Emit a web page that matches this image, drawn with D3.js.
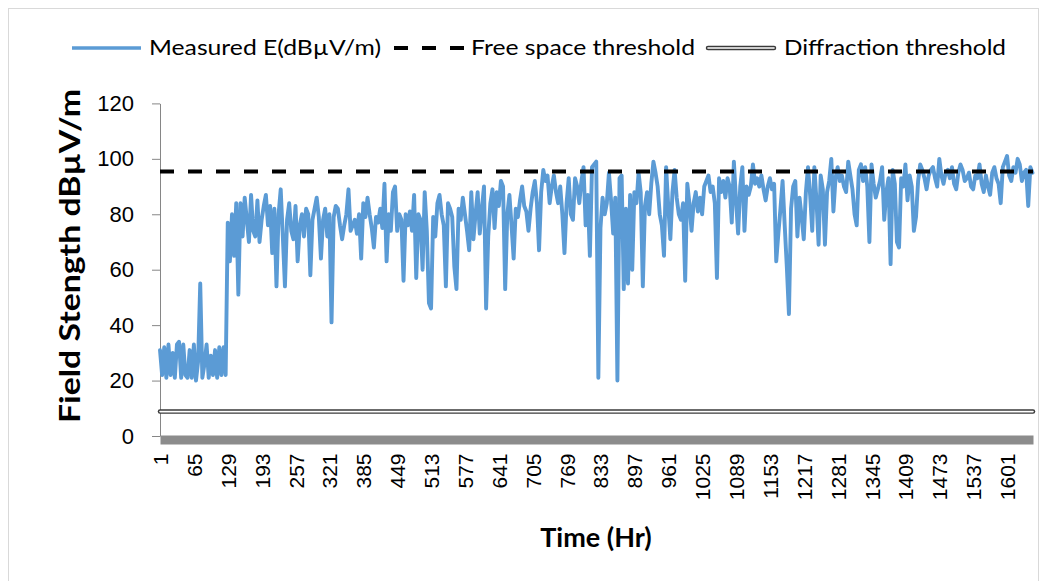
<!DOCTYPE html>
<html>
<head>
<meta charset="utf-8">
<script src="https://cdn.jsdelivr.net/npm/d3@7"></script>
<style>
  body { margin: 0; background: #fff; }
  svg { display: block; font-family: Lato, "Open Sans", sans-serif; }
</style>
</head>
<body>
<svg id="chart" width="1046" height="581"></svg>
<script>
// hourly record, one value every 4 hours (1, 5, 9 ... 1649)
const measured = [
  31,22,32,21,33,22,30,21,33,34,21,33,22,21,31,21,33,20,27,55,21,26,33,21,29,22,31,21,32,22,32,22,
  77,63,80,65,84,51,84,72,86,78,70,87,74,72,85,70,78,83,87,76,83,66,82,54,80,89,72,54,78,84,74,71,83,63,76,80,72,82,
  80,58,78,82,86,79,64,78,82,72, 80,41,79,83,82,76,71,76,80,89, 74,76,78,73,80,64,84,79,86,80,
  75,68,79,77,82,75,91,63,80,74, 88,90,74,80,78,56,80,76,81,74, 87,57,80,78,60,88,74,48,46,79,
  72,84,87,80,76,54,84,82,79,61,
  53,82,78,86,80,74,67,88,71,80, 88,73,82,90,46,72,84,89,75,88, 83,92,90,53,80,87,76,64,82,79,
  85,90,83,81,74,82,88,92,84,67, 88,96,92,94,84,90,94,88,84,90, 80,66,84,93,80,78,93,90,84,92,
  97,76,87,65,97,98,99,21,75,
  86,80,84,95,85,73,86,20,93,94, 53,82,55,87,60,88,84,95,88,54, 83,88,80,91,99,95,90,80,76,65,
  97,83,71,88,96,86,80,78,84,56, 91,84,74,84,88,81,86,80,90,92, 94,88,90,84,57,93,88,92,86,93,
  90,77,99,85,73,90,97,74,90,87,
  90,98,91,93,90,94,89,85,90,93, 89,91,63,73,82,92,76,61,44,82, 90,92,72,86,79,71,88,97,87,74,
  97,85,69,94,89,69,88,92,100,81, 93,97,92,94,90,88,99,94,89,80, 76,96,98,92,97,90,70,98,91,86,
  89,92,97,78,88,93,62,96,91,
  70,68,93,90,98,85,94,90,74,79, 92,98,96,93,89,94,96,97,93,90, 100,94,91,95,96,93,97,91,89,95,
  98,96,92,93,95,90,89,94,93,98, 91,88,94,90,87,95,97,93,91,84, 97,99,101,94,92,97,95,100,98,92,
  95,96,83,97,95
];
const sampleStep = 4;
const hourCount = 1650;

const freeSpace = 95.4;
const diffraction = 8.8;

const xTicks = [1,65,129,193,257,321,385,449,513,577,641,705,769,833,897,961,1025,1089,1153,1217,1281,1345,1409,1473,1537,1601];
const yTicks = [0,20,40,60,80,100,120];

const legendItems = ['Measured E(dBµV/m)', 'Free space threshold', 'Diffraction threshold'];

const svg = d3.select('#chart');

svg.append('rect')
  .attr('x', 8.5).attr('y', 8.5)
  .attr('width', 1030).attr('height', 600)
  .attr('fill', 'none')
  .attr('stroke', '#d9d9d9');

const x = d3.scaleLinear().domain([1, hourCount]).range([160, 1033]);
const y = d3.scaleLinear().domain([0, 120]).range([436, 103.4]);

// y axis
const yAxis = svg.append('g')
  .attr('transform', 'translate(160,0)')
  .call(d3.axisLeft(y).tickValues(yTicks).tickSize(8).tickSizeOuter(0).tickPadding(18));
yAxis.select('.domain').attr('stroke', '#868686');
yAxis.selectAll('.tick line').attr('stroke', '#868686');
yAxis.selectAll('.tick text')
  .attr('font-size', 22)
  .attr('fill', '#000');

// x axis: thick grey bar
const xAxis = svg.append('g')
  .attr('transform', 'translate(0,439.5)')
  .call(d3.axisBottom(x).tickValues(xTicks).tickFormat(d3.format('d')).tickSize(0).tickSizeOuter(0));
xAxis.select('.domain').attr('stroke', '#8c8c8c').attr('stroke-width', 9);
xAxis.selectAll('.tick text')
  .attr('font-size', 21)
  .attr('fill', '#000')
  .attr('text-anchor', 'end')
  .attr('dominant-baseline', 'central')
  .attr('dy', null)
  .attr('y', 0)
  .attr('transform', 'translate(0,14) rotate(-90)');

// diffraction threshold (double line)
svg.append('line')
  .attr('x1', x(1)).attr('x2', x(hourCount))
  .attr('y1', y(diffraction)).attr('y2', y(diffraction))
  .attr('stroke', '#3a3a3a').attr('stroke-width', 4.5).attr('stroke-linecap', 'round');
svg.append('line')
  .attr('x1', x(1)).attr('x2', x(hourCount))
  .attr('y1', y(diffraction)).attr('y2', y(diffraction))
  .attr('stroke', '#fff').attr('stroke-width', 1.6).attr('stroke-linecap', 'round');

// measured field strength
const line = d3.line()
  .x((d, i) => x(1 + i * sampleStep))
  .y(d => y(d));

svg.append('path')
  .datum(measured)
  .attr('d', line)
  .attr('fill', 'none')
  .attr('stroke', '#5b9bd5')
  .attr('stroke-width', 3.9)
  .attr('stroke-linejoin', 'round')
  .attr('stroke-linecap', 'round');

// free space threshold
svg.append('line')
  .attr('x1', x(1)).attr('x2', x(hourCount))
  .attr('y1', y(freeSpace)).attr('y2', y(freeSpace))
  .attr('stroke', '#000').attr('stroke-width', 4)
  .attr('stroke-dasharray', '14,14');

// axis titles
svg.append('text')
  .attr('transform', 'translate(80,256) rotate(-90)')
  .attr('text-anchor', 'middle')
  .attr('font-size', 28)
  .attr('font-weight', 'bold')
  .attr('textLength', 334)
  .attr('lengthAdjust', 'spacingAndGlyphs')
  .text('Field Stength dBµV/m');

svg.append('text')
  .attr('x', 596).attr('y', 547)
  .attr('text-anchor', 'middle')
  .attr('font-size', 27)
  .attr('font-weight', 'bold')
  .text('Time (Hr)');

// legend
const legendY = 48;
const legend = svg.append('g');
legend.append('line')
  .attr('x1', 72).attr('x2', 141).attr('y1', legendY).attr('y2', legendY)
  .attr('stroke', '#5b9bd5').attr('stroke-width', 3.4);
legend.append('line')
  .attr('x1', 394).attr('x2', 465).attr('y1', legendY).attr('y2', legendY)
  .attr('stroke', '#000').attr('stroke-width', 4).attr('stroke-dasharray', '14,14');
legend.append('line')
  .attr('x1', 708).attr('x2', 774).attr('y1', legendY).attr('y2', legendY)
  .attr('stroke', '#3a3a3a').attr('stroke-width', 4.5).attr('stroke-linecap', 'round');
legend.append('line')
  .attr('x1', 708).attr('x2', 774).attr('y1', legendY).attr('y2', legendY)
  .attr('stroke', '#fff').attr('stroke-width', 1.6).attr('stroke-linecap', 'round');

const legendText = [[149, 232], [471, 224], [784, 222]];
legend.selectAll('text.item')
  .data(legendItems)
  .enter()
  .append('text')
  .attr('class', 'item')
  .attr('x', (d, i) => legendText[i][0])
  .attr('y', legendY + 7)
  .attr('font-size', 21)
  .attr('textLength', (d, i) => legendText[i][1])
  .attr('lengthAdjust', 'spacingAndGlyphs')
  .text(d => d);
</script>
</body>
</html>
